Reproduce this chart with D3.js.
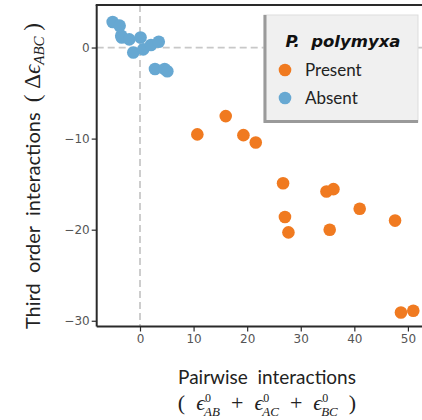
<!DOCTYPE html>
<html>
<head>
<meta charset="utf-8">
<script src="https://cdn.jsdelivr.net/npm/d3@7"></script>
<style>
  html, body { margin: 0; padding: 0; background: #fff; }
  svg { display: block; }
  .tick text { font-family: "DejaVu Sans", sans-serif; font-size: 12px; fill: #555; }
</style>
</head>
<body>
<svg id="chart" width="422" height="420"></svg>
<script>
// Pairwise vs third-order epistasis, split by presence of P. polymyxa
const presentX = [10.7, 16.0, 19.3, 21.6, 26.7, 27.05, 27.7, 34.8, 36.1, 35.4, 41.0, 47.6, 48.7, 51.0];
const presentY = [-9.54, -7.53, -9.62, -10.42, -14.9, -18.6, -20.3, -15.8, -15.55, -20.0, -17.7, -19.0, -29.1, -28.9];
const absentX = [-5.1, -3.8, -3.5, -3.4, -2.0, 0.1, -1.25, 0.6, 2.05, 3.5, 2.8, 4.6, 5.1];
const absentY = [2.8, 2.4, 1.3, 1.1, 0.9, 1.1, -0.55, -0.2, 0.27, 0.64, -2.36, -2.36, -2.6];
const xTicks = [0, 10, 20, 30, 40, 50];
const yTicks = [0, -10, -20, -30];
const seriesNames = ["Present", "Absent"];
const seriesColors = ["#F07A20", "#67A8D2"];

const svg = d3.select("#chart");
const pLeft = 96.7, pRight = 424, pTop = 5, pBottom = 326.5;

const x = d3.scaleLinear().domain([-8.08, 53]).range([pLeft, pRight]);
const y = d3.scaleLinear().domain([-30.63, 4.67]).range([pBottom, pTop]);

// zero reference lines
svg.append("line")
  .attr("x1", x(0)).attr("x2", x(0))
  .attr("y1", pTop).attr("y2", pBottom)
  .attr("stroke", "#c8c8c8").attr("stroke-width", 1.8)
  .attr("stroke-dasharray", "7,4");
svg.append("line")
  .attr("x1", pLeft).attr("x2", pRight)
  .attr("y1", y(0)).attr("y2", y(0))
  .attr("stroke", "#c8c8c8").attr("stroke-width", 1.8)
  .attr("stroke-dasharray", "7,4");

// points
const absentPts = absentX.map((v, i) => [v, absentY[i]]);
const presentPts = presentX.map((v, i) => [v, presentY[i]]);
svg.append("g").selectAll("circle").data(absentPts).join("circle")
  .attr("cx", d => x(d[0])).attr("cy", d => y(d[1]))
  .attr("r", 6.3).attr("fill", seriesColors[1]);
svg.append("g").selectAll("circle").data(presentPts).join("circle")
  .attr("cx", d => x(d[0])).attr("cy", d => y(d[1]))
  .attr("r", 6.3).attr("fill", seriesColors[0]);

// axes
const fmt = d => d < 0 ? "\u2212" + Math.abs(d) : String(d);
const xAxis = svg.append("g").attr("transform", `translate(0,${pBottom})`)
  .call(d3.axisBottom(x).tickValues(xTicks).tickFormat(fmt).tickSize(5).tickPadding(3));
const yAxis = svg.append("g").attr("transform", `translate(${pLeft},0)`)
  .call(d3.axisLeft(y).tickValues(yTicks).tickFormat(fmt).tickSize(5).tickPadding(2));
[xAxis, yAxis].forEach(g => {
  g.select(".domain").attr("stroke", "#2a2a2a").attr("stroke-width", 2);
  g.selectAll(".tick line").attr("stroke", "#2a2a2a").attr("stroke-width", 1.2);
});
xAxis.select(".domain").attr("d", `M${pLeft},0H${pRight}`);
yAxis.select(".domain").attr("d", `M0,${pBottom}V${pTop}`);
// top spine
svg.append("line").attr("x1", pLeft - 1).attr("x2", 422).attr("y1", pTop).attr("y2", pTop)
  .attr("stroke", "#2a2a2a").attr("stroke-width", 2);

// legend
const lg = svg.append("g");
lg.append("rect").attr("x", 264).attr("y", 15).attr("width", 154).attr("height", 107)
  .attr("fill", "#f0f0f0").attr("stroke", "#dddddd").attr("stroke-width", 1);
lg.append("path").attr("d", "M265,15V121.5H418")
  .attr("fill", "none").attr("stroke", "#9a9a9a").attr("stroke-width", 3);
lg.append("text").attr("x", 343).attr("y", 47).attr("text-anchor", "middle")
  .attr("font-family", "DejaVu Sans, sans-serif").attr("font-size", 16.5)
  .attr("font-weight", "bold").attr("font-style", "italic").attr("fill", "#111")
  .attr("xml:space", "preserve").text("P.  polymyxa");
seriesNames.forEach((name, i) => {
  const cy = 70 + i * 28;
  lg.append("circle").attr("cx", 285).attr("cy", cy).attr("r", 6.3).attr("fill", seriesColors[i]);
  lg.append("text").attr("x", 305).attr("y", cy + 6).attr("font-family", "Lato, sans-serif")
    .attr("font-size", 17).attr("fill", "#222").text(name);
});

// axis titles
const mathFont = "Liberation Serif, serif";
svg.append("text").attr("x", 267).attr("y", 384).attr("text-anchor", "middle")
  .attr("font-family", "Lato, sans-serif").attr("font-size", 19).attr("fill", "#222")
  .attr("xml:space", "preserve").text("Pairwise  interactions");

const x2 = svg.append("text").attr("x", 267).attr("y", 410).attr("text-anchor", "middle")
  .attr("font-family", mathFont).attr("font-size", 22).attr("fill", "#222")
  .attr("xml:space", "preserve");
x2.append("tspan").text("(  ");
["AB", "AC", "BC"].forEach((s, i) => {
  if (i > 0) x2.append("tspan").attr("dy", -6).text("  +  ");
  x2.append("tspan").attr("font-style", "italic").text("\u03F5");
  x2.append("tspan").attr("font-size", 12).attr("dy", -8).text("0");
  x2.append("tspan").attr("font-size", 13).attr("font-style", "italic").attr("dx", -7).attr("dy", 14).text(s);
});
x2.append("tspan").attr("dy", -6).text("  )");

const yt = svg.append("text").attr("transform", "translate(40,176) rotate(-90)")
  .attr("text-anchor", "middle").attr("font-size", 20).attr("fill", "#222")
  .attr("font-family", "Lato, sans-serif").attr("xml:space", "preserve");
yt.append("tspan").text("Third  order  interactions  ");
yt.append("tspan").attr("font-family", mathFont).attr("font-size", 23).text("( \u0394");
yt.append("tspan").attr("font-family", mathFont).attr("font-size", 23).attr("font-style", "italic").text("\u03F5");
yt.append("tspan").attr("font-family", mathFont).attr("font-size", 15).attr("font-style", "italic").attr("dy", 4).text("ABC");
yt.append("tspan").attr("font-family", mathFont).attr("font-size", 23).attr("dy", -4).text(" )");
</script>
</body>
</html>
